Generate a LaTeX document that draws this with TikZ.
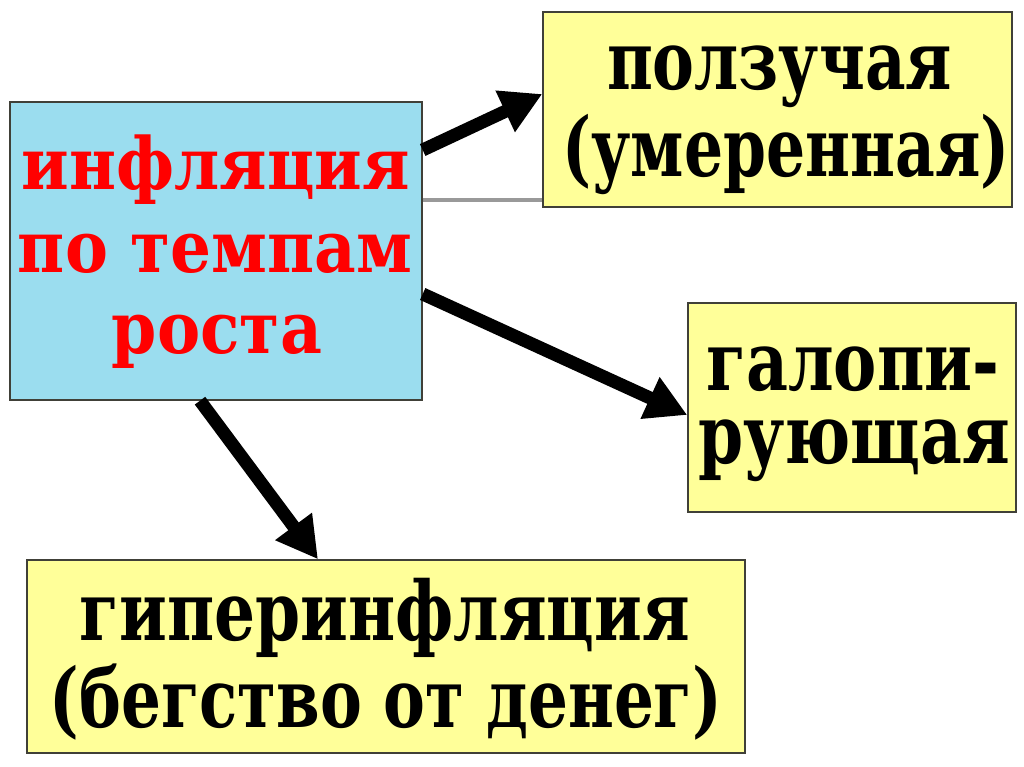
\documentclass[tikz,border=0pt]{standalone}
\usepackage{fontspec}
\setmainfont{DejaVu Serif Condensed}
\usetikzlibrary{arrows.meta,calc}
\definecolor{boxblue}{RGB}{155,221,239}
\definecolor{boxyellow}{RGB}{255,255,153}
\definecolor{boxline}{RGB}{64,64,56}
\definecolor{txtred}{RGB}{255,0,0}
\newcommand\fitline[2]{\resizebox{#1pt}{\height}{#2}}
\begin{document}
\begin{tikzpicture}[x=1pt,y=-1pt,
  box/.style={draw=boxline,line width=1.4pt,inner sep=0pt},
  bluebox/.style={box,fill=boxblue},
  yellowbox/.style={box,fill=boxyellow},
  redtxt/.style={anchor=base,inner sep=0pt,text=txtred,font=\fontsize{72pt}{72pt}\selectfont\bfseries},
  blacktxt/.style={anchor=base,inner sep=0pt,text=black,font=\fontsize{82pt}{82pt}\selectfont\bfseries},
  conn/.style={line width=13pt,-{Triangle[length=41pt,width=43pt]}},
  guide/.style={draw=black!40,line width=3.5pt}]
\useasboundingbox[fill=white] (0,0) rectangle (1024,767);
% boxes
\node[bluebox,minimum width=412pt,minimum height=298pt] (blue) at (216,251) {};
\node[yellowbox,minimum width=469pt,minimum height=195pt] (crawl) at (777.5,109.5) {};
\node[yellowbox,minimum width=328pt,minimum height=209pt] (gallop) at (852,407.5) {};
\node[yellowbox,minimum width=718pt,minimum height=193pt] (hyper) at (386,656.5) {};
% texts
\node[redtxt] (b1) at (216,190) {\fitline{388}{инфляция}};
\node[redtxt] (b2) at (215,272) {\fitline{394}{по темпам}};
\node[redtxt] (b3) at (217,353) {\fitline{210}{роста}};
\node[blacktxt] (c1) at (779.5,90) {\fitline{345}{ползучая}};
\node[blacktxt] (c2) at (786,177) {\fitline{447}{(умеренная)}};
\node[blacktxt] (g1) at (853,390) {\fitline{293}{галопи-}};
\node[blacktxt] (g2) at (854,463) {\fitline{312}{рующая}};
\node[blacktxt] (h1) at (385,640) {\fitline{610}{гиперинфляция}};
\node[blacktxt] (h2) at (386,727) {\fitline{672}{(бегство от денег)}};
% connectors
\draw[guide] ([yshift=51pt]blue.east) -- ([yshift=-90.5pt]crawl.west);
\draw[conn] ([yshift=101pt]blue.east) -- ([yshift=15.5pt]crawl.west);
\draw[conn] ([yshift=-43pt]blue.east) -- ([yshift=-7.5pt]gallop.west);
\draw[conn] ([xshift=-16pt]blue.south) -- ([xshift=-68pt]hyper.north);
\end{tikzpicture}
\end{document}
